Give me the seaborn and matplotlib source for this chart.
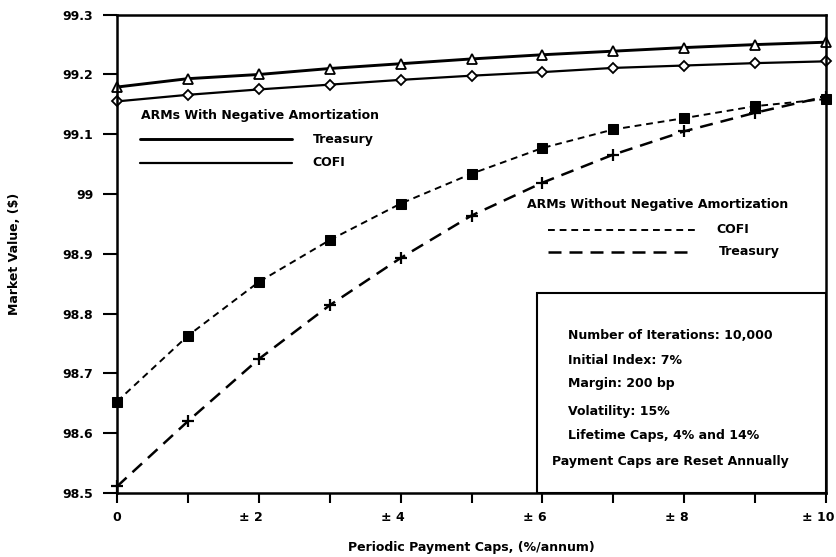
import numpy as np
import pandas as pd
import matplotlib
matplotlib.use("Agg")
import matplotlib.pyplot as plt
import matplotlib.transforms as mtrans
from matplotlib.lines import Line2D
from matplotlib.patches import Rectangle
import seaborn as sns

# ---- data ----
caps = [0, 1, 2, 3, 4, 5, 6, 7, 8, 9, 10]
treasury_negam = [99.179, 99.193, 99.200, 99.210, 99.218, 99.226, 99.233, 99.239, 99.245, 99.250, 99.254]
cofi_negam = [99.155, 99.166, 99.175, 99.183, 99.191, 99.198, 99.204, 99.211, 99.215, 99.219, 99.222]
cofi_nonegam = [98.653, 98.763, 98.853, 98.923, 98.984, 99.034, 99.077, 99.108, 99.127, 99.147, 99.159]
treasury_nonegam = [98.511, 98.620, 98.724, 98.814, 98.893, 98.964, 99.019, 99.066, 99.105, 99.136, 99.163]

x_ticks = [0, 1, 2, 3, 4, 5, 6, 7, 8, 9, 10]
x_tick_labels = ["0", "", "\u00b1 2", "", "\u00b1 4", "", "\u00b1 6", "", "\u00b1 8", "", "\u00b1 10"]
y_ticks = [98.5, 98.6, 98.7, 98.8, 98.9, 99.0, 99.1, 99.2, 99.3]
y_tick_labels = ["98.5", "98.6", "98.7", "98.8", "98.9", "99", "99.1", "99.2", "99.3"]

legend1_title = "ARMs With Negative Amortization"
legend1_labels = ["Treasury", "COFI"]
legend2_title = "ARMs Without Negative Amortization"
legend2_labels = ["COFI", "Treasury"]
box_lines = ["Number of Iterations: 10,000", "Initial Index: 7%", "Margin: 200 bp",
             "Volatility: 15%", "Lifetime Caps, 4% and 14%"]
box_last = "Payment Caps are Reset Annually"

df = pd.DataFrame({"cap": caps, "t_neg": treasury_negam, "c_neg": cofi_negam,
                   "c_non": cofi_nonegam, "t_non": treasury_nonegam})

sns.set_style("ticks")
plt.rcParams["font.family"] = ["DejaVu Sans"]
plt.rcParams["font.weight"] = "bold"
for k in ["text.color", "axes.labelcolor", "xtick.color", "ytick.color", "axes.edgecolor"]:
    plt.rcParams[k] = "black"

fig = plt.figure(figsize=(8.36, 5.57), dpi=100)
ax = fig.add_axes([117/836, 1-493/557, 709/836, (493-14.7)/557])

FS = 9
SHORT = (0, (3.5, 2.5))
LONG = (0, (5.2, 3.2))
sns.lineplot(data=df, x="cap", y="t_neg", ax=ax, color="black", lw=2.1, clip_on=False,
             marker="^", markersize=6.5, markerfacecolor="white", markeredgecolor="black", markeredgewidth=1.3)
sns.lineplot(data=df, x="cap", y="c_neg", ax=ax, color="black", lw=1.6, clip_on=False,
             marker="D", markersize=4.8, markerfacecolor="white", markeredgecolor="black", markeredgewidth=1.3)
sns.lineplot(data=df, x="cap", y="c_non", ax=ax, color="black", lw=1.4, clip_on=False,
             marker="s", markersize=6.5, markerfacecolor="black", markeredgecolor="black",
             dashes=False, linestyle=SHORT)
sns.lineplot(data=df, x="cap", y="t_non", ax=ax, color="black", lw=1.8, clip_on=False,
             marker="+", markersize=8, markeredgewidth=1.6, markeredgecolor="black",
             dashes=False, linestyle=LONG)

ax.set_xlim(0, 10)
ax.set_ylim(98.5, 99.3)
ax.set_xticks(x_ticks)
ax.set_xticklabels(x_tick_labels, fontsize=FS, fontweight="bold")
ax.set_yticks(y_ticks)
ax.set_yticklabels(y_tick_labels, fontsize=FS, fontweight="bold")
ax.tick_params(axis="x", direction="out", length=7, width=1.5, pad=6)
ax.tick_params(axis="y", direction="out", length=10, width=1.5, pad=7)
# keep the digits of each x label centred on its tick, with the sign to the left
for lab in ax.get_xticklabels():
    t = lab.get_text()
    if t.startswith("\u00b1"):
        digits = t.split()[-1]
        lab.set_horizontalalignment("right")
        dx = 4.4 * len(digits) / 72.0
        lab.set_transform(lab.get_transform() + mtrans.ScaledTranslation(dx * 72 / 100, 0, fig.dpi_scale_trans))
ax.set_xlabel("Periodic Payment Caps, (%/annum)", fontsize=FS, fontweight="bold", labelpad=12)
ax.set_ylabel("Market Value, ($)", fontsize=FS, fontweight="bold", labelpad=30)
for s in ax.spines.values():
    s.set_linewidth(1.8)
    s.set_color("black")
ax.grid(False)

T = ax.transAxes
# legend 1
ax.text(0.034, 0.790, legend1_title, transform=T, fontsize=FS, fontweight="bold", va="center")
ax.add_line(Line2D([0.032, 0.247], [0.740, 0.740], transform=T, color="black", lw=2.1))
ax.add_line(Line2D([0.032, 0.247], [0.690, 0.690], transform=T, color="black", lw=1.6))
ax.text(0.276, 0.740, legend1_labels[0], transform=T, fontsize=FS, fontweight="bold", va="center")
ax.text(0.276, 0.690, legend1_labels[1], transform=T, fontsize=FS, fontweight="bold", va="center")
# legend 2
ax.text(0.578, 0.604, legend2_title, transform=T, fontsize=FS, fontweight="bold", va="center")
ax.add_line(Line2D([0.608, 0.815], [0.550, 0.550], transform=T, color="black", lw=1.4, linestyle=SHORT))
ax.add_line(Line2D([0.608, 0.815], [0.504, 0.504], transform=T, color="black", lw=1.8, linestyle=LONG))
ax.text(0.846, 0.550, legend2_labels[0], transform=T, fontsize=FS, fontweight="bold", va="center")
ax.text(0.849, 0.504, legend2_labels[1], transform=T, fontsize=FS, fontweight="bold", va="center")
# info box
ax.add_patch(Rectangle((0.592, 0.0), 0.408, 0.418, transform=T, fill=False, edgecolor="black", lw=1.5))
for yy, txt in zip([0.330, 0.278, 0.228, 0.171, 0.121], box_lines):
    ax.text(0.636, yy, txt, transform=T, fontsize=FS, fontweight="bold", va="center")
ax.text(0.614, 0.065, box_last, transform=T, fontsize=FS, fontweight="bold", va="center")

fig.savefig("out.png", dpi=100)
